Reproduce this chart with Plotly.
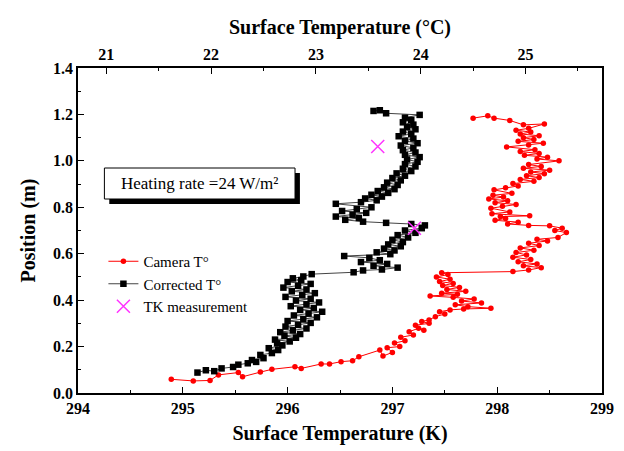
import plotly.graph_objects as go

# ---------------- data ----------------
corr_T = [295.14, 295.22, 295.30, 295.37, 295.48, 295.53, 295.62, 295.70, 295.66, 295.77,
          295.74, 295.85, 295.91, 295.82, 295.95, 295.90, 296.02, 295.88, 296.08, 295.97,
          296.12, 295.93, 296.05, 296.18, 295.98, 296.10, 296.22, 296.00, 296.15, 296.28,
          296.06, 296.20, 296.33, 296.12, 296.25, 296.03, 296.18, 296.30, 296.08, 296.22,
          295.98, 296.14, 296.26, 296.04, 296.18, 295.96, 296.10, 296.22, 296.00, 296.13,
          296.05, 296.15, 296.23, 296.63, 296.72, 296.90, 297.05, 296.82, 296.95, 296.70,
          296.88, 296.78, 296.54, 296.98, 296.85, 297.02, 296.92, 297.08, 296.96, 297.10,
          297.00, 297.15, 297.05, 297.22, 297.12, 297.28, 297.31, 297.18, 296.94, 296.72,
          296.55, 296.68, 296.46, 296.62, 296.75, 296.52, 296.66, 296.80, 296.46, 296.70,
          296.85, 296.74, 296.90, 296.80, 296.96, 296.86, 297.02, 296.92, 297.05, 296.95,
          297.08, 297.00, 297.12, 297.04, 297.18, 297.10, 297.22, 297.12, 297.24, 297.14,
          297.26, 297.12, 297.22, 297.10, 297.20, 297.08, 297.24, 297.12, 297.20, 297.06,
          297.18, 297.10, 297.22, 297.14, 297.20, 297.10, 297.18, 297.12, 297.26, 296.94,
          296.88, 296.82]
corr_pos = [0.088, 0.098, 0.094, 0.106, 0.112, 0.122, 0.128, 0.134, 0.142, 0.150,
            0.164, 0.172, 0.185, 0.193, 0.205, 0.214, 0.222, 0.230, 0.238, 0.246,
            0.254, 0.262, 0.270, 0.278, 0.286, 0.294, 0.302, 0.310, 0.318, 0.326,
            0.334, 0.342, 0.350, 0.358, 0.366, 0.374, 0.382, 0.390, 0.398, 0.406,
            0.414, 0.422, 0.430, 0.438, 0.446, 0.454, 0.462, 0.470, 0.478, 0.486,
            0.494, 0.502, 0.512, 0.520, 0.528, 0.532, 0.540, 0.548, 0.556, 0.564,
            0.572, 0.582, 0.590, 0.598, 0.606, 0.614, 0.622, 0.632, 0.640, 0.650,
            0.660, 0.670, 0.680, 0.690, 0.700, 0.710, 0.722, 0.728, 0.733, 0.738,
            0.746, 0.754, 0.760, 0.768, 0.776, 0.784, 0.792, 0.800, 0.815, 0.822,
            0.830, 0.838, 0.846, 0.854, 0.862, 0.870, 0.878, 0.886, 0.896, 0.906,
            0.916, 0.926, 0.936, 0.946, 0.956, 0.966, 0.976, 0.986, 0.996, 1.006,
            1.016, 1.026, 1.036, 1.046, 1.056, 1.066, 1.076, 1.086, 1.096, 1.106,
            1.116, 1.126, 1.136, 1.146, 1.156, 1.166, 1.176, 1.186, 1.198, 1.205,
            1.218, 1.215]

cam_T = [294.89, 295.10, 295.26, 295.34, 295.53, 295.57, 295.74, 295.85, 296.07, 296.13,
         296.32, 296.40, 296.51, 296.62, 296.68, 296.88, 296.91, 297.00, 296.95, 297.07,
         297.02, 297.12, 297.08, 297.20, 297.16, 297.25, 297.30, 297.22, 297.35, 297.28,
         297.35, 297.41, 297.50, 297.45, 297.55, 297.68, 297.94, 297.72, 297.60, 297.85,
         297.66, 297.78, 297.58, 297.36, 297.62, 297.47, 297.70, 297.52, 297.64, 297.48,
         297.58, 297.45, 297.55, 297.42, 297.53, 297.47, 298.15, 298.30, 298.42, 298.25,
         298.38, 298.20, 298.32, 298.15, 298.28, 298.18, 298.35, 298.22, 298.40, 298.30,
         298.48, 298.38, 298.58, 298.66, 298.55, 298.62, 298.50, 298.30, 298.10, 298.20,
         297.98, 298.08, 298.03, 298.31, 297.95, 298.12, 297.94, 298.05, 298.18, 297.98,
         298.10, 297.92, 298.06, 297.96, 298.14, 297.97, 298.08, 298.20, 298.15, 298.35,
         298.22, 298.40, 298.28, 298.45, 298.32, 298.50, 298.25, 298.42, 298.30, 298.59,
         298.38, 298.48, 298.26, 298.40, 298.22, 298.36, 298.09, 298.30, 298.44, 298.20,
         298.35, 298.25, 298.40, 298.22, 298.32, 298.18, 298.30, 298.45, 298.25, 298.12,
         297.97, 297.91, 297.77]
cam_pos = [0.059, 0.052, 0.054, 0.078, 0.088, 0.070, 0.090, 0.102, 0.113, 0.106,
           0.125, 0.125, 0.135, 0.139, 0.156, 0.185, 0.159, 0.175, 0.195, 0.200,
           0.215, 0.225, 0.240, 0.250, 0.264, 0.279, 0.270, 0.292, 0.300, 0.308,
           0.315, 0.329, 0.340, 0.350, 0.358, 0.362, 0.365, 0.372, 0.380, 0.388,
           0.396, 0.405, 0.412, 0.418, 0.425, 0.430, 0.438, 0.446, 0.455, 0.463,
           0.472, 0.480, 0.490, 0.500, 0.510, 0.518, 0.523, 0.530, 0.540, 0.548,
           0.556, 0.565, 0.575, 0.585, 0.595, 0.605, 0.615, 0.625, 0.635, 0.645,
           0.655, 0.662, 0.670, 0.691, 0.700, 0.710, 0.720, 0.722, 0.728, 0.736,
           0.744, 0.752, 0.760, 0.763, 0.772, 0.780, 0.796, 0.804, 0.812, 0.820,
           0.828, 0.836, 0.844, 0.852, 0.860, 0.875, 0.884, 0.892, 0.902, 0.912,
           0.920, 0.928, 0.936, 0.945, 0.952, 0.960, 0.968, 0.976, 0.984, 1.000,
           1.008, 1.016, 1.024, 1.032, 1.040, 1.048, 1.060, 1.068, 1.076, 1.084,
           1.092, 1.100, 1.108, 1.116, 1.124, 1.132, 1.140, 1.159, 1.155, 1.174,
           1.184, 1.194, 1.184]

tk_T = [296.86, 297.21]
tk_pos = [1.062, 0.710]

x_range_K = [294, 299]
c_offset = 273.27  # offset used for the top (°C) axis
y_range = [0, 1.4]

# ---------------- figure ----------------
FONT = "Liberation Serif"
fig = go.Figure()

fig.add_trace(go.Scatter(
    x=cam_T, y=cam_pos, mode="lines+markers", name="Camera T°",
    line=dict(color="red", width=1),
    marker=dict(symbol="circle", size=5.5, color="red"),
))
fig.add_trace(go.Scatter(
    x=corr_T, y=corr_pos, mode="lines+markers", name="Corrected T°",
    line=dict(color="#444444", width=1),
    marker=dict(symbol="square", size=6.5, color="black"),
))
fig.add_trace(go.Scatter(
    x=tk_T, y=tk_pos, mode="markers", name="TK measurement",
    marker=dict(symbol="x-thin", size=13, color="#ff33ff",
                line=dict(color="#ff33ff", width=1.5)),
))
# invisible trace carrying the top (°C) axis
fig.add_trace(go.Scatter(
    x=[x_range_K[0] - c_offset, x_range_K[1] - c_offset], y=[None, None],
    xaxis="x2", mode="markers", showlegend=False, hoverinfo="skip",
))

L, R, T, B = 78, 10, 68, 58
W, H = 624, 451
pw, ph = W - L - R, H - T - B


def px2paper(px, py):
    return (px - L) / pw, (H - B - py) / ph


axis_common = dict(
    showline=True, linecolor="black", linewidth=1.5,
    ticks="inside", ticklen=6, tickwidth=1.2, tickcolor="black",
    showgrid=False, zeroline=False,
    tickfont=dict(family=FONT, size=16, color="black", weight="bold"),
)

fig.update_layout(
    width=W, height=H,
    margin=dict(l=L, r=R, t=T, b=B),
    plot_bgcolor="white", paper_bgcolor="white",
    font=dict(family=FONT, color="black"),
    xaxis=dict(
        range=x_range_K, dtick=1, tick0=294,
        minor=dict(dtick=0.5, ticklen=3, ticks="inside", tickcolor="black"),
        mirror=True,
        title=dict(text="Surface Temperature (K)", standoff=10,
                   font=dict(family=FONT, size=20, weight="bold")),
        **axis_common,
    ),
    xaxis2=dict(
        overlaying="x", side="top",
        range=[x_range_K[0] - c_offset, x_range_K[1] - c_offset],
        dtick=1, tick0=21,
        minor=dict(dtick=0.5, ticklen=3, ticks="inside", tickcolor="black"),
        title=dict(text="Surface Temperature (°C)", standoff=6,
                   font=dict(family=FONT, size=20, weight="bold")),
        **axis_common,
    ),
    yaxis=dict(
        range=y_range, dtick=0.2, tickformat=".1f",
        minor=dict(dtick=0.1, ticklen=3, ticks="inside", tickcolor="black"),
        mirror=True,
        title=dict(text="Position (m)", standoff=12,
                   font=dict(family=FONT, size=20, weight="bold")),
        **axis_common,
    ),
    legend=dict(
        x=px2paper(104, 0)[0], y=px2paper(0, 245)[1],
        xanchor="left", yanchor="top",
        bgcolor="rgba(0,0,0,0)",
        font=dict(family=FONT, size=15, color="black"),
        tracegroupgap=0, itemwidth=30,
    ),
    showlegend=True,
)

# annotation box with drop shadow
sx0, sy0 = px2paper(110, 204)
sx1, sy1 = px2paper(305, 173)
bx0, by0 = px2paper(105, 199)
bx1, by1 = px2paper(300, 168)
fig.add_shape(type="rect", xref="paper", yref="paper",
              x0=sx0, y0=sy0, x1=sx1, y1=sy1,
              fillcolor="black", line=dict(width=0))
fig.add_shape(type="rect", xref="paper", yref="paper",
              x0=bx0, y0=by0, x1=bx1, y1=by1,
              fillcolor="white", line=dict(color="black", width=1))
fig.add_annotation(
    xref="paper", yref="paper", x=(bx0 + bx1) / 2, y=(by0 + by1) / 2,
    text="Heating rate =24 W/m²", showarrow=False,
    font=dict(family=FONT, size=17, color="black"),
    xanchor="center", yanchor="middle",
)

fig.write_html("out.html")
